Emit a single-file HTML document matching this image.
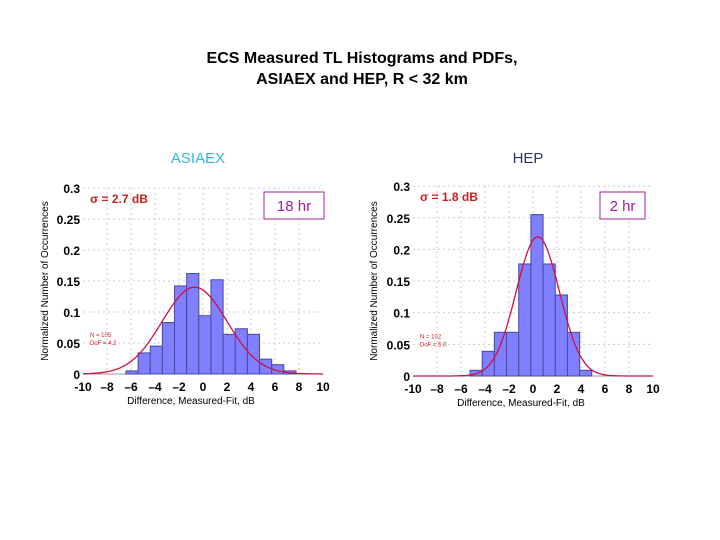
<!DOCTYPE html>
<html><head><meta charset="utf-8"><style>
body{margin:0;background:#fff;}
svg{display:block;font-family:"Liberation Sans",Arial,sans-serif;}
</style></head><body>
<svg id="s" width="720" height="540">
<text x="362" y="63" text-anchor="middle" font-size="16" font-weight="bold">ECS Measured TL Histograms and PDFs,</text>
<text x="362" y="84" text-anchor="middle" font-size="16" font-weight="bold">ASIAEX and HEP, R &lt; 32 km</text>
<text x="198" y="163" text-anchor="middle" font-size="15" fill="#30b8d8">ASIAEX</text>
<text x="528" y="163" text-anchor="middle" font-size="15" fill="#303070">HEP</text>
</svg>
<script>
const leftStart=-6.42, leftWidth=1.012;
const leftValues=[0.005,0.034,0.045,0.083,0.142,0.162,0.094,0.152,0.064,0.073,0.064,0.024,0.015,0.005];
const leftFit=[-0.7,2.7,0.14];
const rightStart=-5.25, rightWidth=1.015;
const rightValues=[0.009,0.039,0.069,0.069,0.177,0.255,0.177,0.128,0.069,0.009];
const rightFit=[0.4,1.8,0.22];
const xTicks=[-10,-8,-6,-4,-2,0,2,4,6,8,10];
const xTickLabels=["-10","\u20138","\u20136","\u20134","\u20132","0","2","4","6","8","10"];
const yTicks=[0,0.05,0.1,0.15,0.2,0.25,0.3];
const yTickLabels=["0","0.05","0.1","0.15","0.2","0.25","0.3"];
const NS="http://www.w3.org/2000/svg";
const svg=document.getElementById('s');
function el(t,a,p){const e=document.createElementNS(NS,t);for(const k in a)e.setAttribute(k,a[k]);(p||svg).appendChild(e);return e;}
function panel(o){
  const g=el('g',{});
  
  
  const X=v=>o.x0+(v+10)*o.xs, Y=v=>o.y0-v*o.ys;
  xTicks.forEach((t,i)=>{
    if(i>0&&i<xTicks.length-1){const l=el('line',{x1:X(t),x2:X(t),y1:Y(0.3),y2:Y(0),stroke:'#ccc','stroke-dasharray':'2,3'},g);
    }
    const tx=el('text',{x:X(t),y:o.y0+17,'text-anchor':'middle','font-size':12,'font-weight':'bold'},g);tx.textContent=xTickLabels[i];
    
  });
  yTicks.forEach((t,i)=>{
    if(i>0){const l=el('line',{x1:X(-10),x2:X(10),y1:Y(t),y2:Y(t),stroke:'#ccc','stroke-dasharray':'2,3'},g);
    }
    const tx=el('text',{x:X(-10)-3,y:Y(t)+5,'text-anchor':'end','font-size':12,'font-weight':'bold'},g);tx.textContent=yTickLabels[i];
    
  });
  el('line',{x1:X(-10),x2:X(10),y1:Y(0),y2:Y(0),stroke:'#999'},g);
  o.vals.forEach((v,i)=>{
    const a=o.start+i*o.w;
    const r=el('rect',{x:X(a),y:Y(v),width:o.w*o.xs,height:v*o.ys,fill:'#8080ff',stroke:'#4848a0','stroke-width':1},g);
    
  });
  let d='';
  for(let x=-10;x<=10.001;x+=0.1){const y=o.fit[2]*Math.exp(-0.5*Math.pow((x-o.fit[0])/o.fit[1],2));d+=(d?'L':'M')+X(x).toFixed(1)+','+Y(y).toFixed(1);}
  const p=el('path',{d:d,fill:'none',stroke:'#d01040','stroke-width':1.3},g);
  
  const yl=el('text',{x:0,y:0,transform:`translate(${o.ylx},${Y(0.15)}) rotate(-90)`,'text-anchor':'middle','font-size':10},g);yl.textContent='Normalized Number of Occurrences';
  
  const xl=el('text',{x:X(-1),y:o.y0+30,'text-anchor':'middle','font-size':10},g);xl.textContent='Difference, Measured-Fit, dB';
  
  const sg=el('text',{x:X(-10)+7,y:Y(0.3)+15,'font-size':12,'font-weight':'bold',fill:'#cc2020'},g);sg.textContent=o.sigma;
  
  const n1=el('text',{x:X(-10)+7,y:Y(0.04)-12,'font-size':6,fill:'#cc2020'},g);n1.textContent=o.n1;
  
  const n2=el('text',{x:X(-10)+7,y:Y(0.04)-4,'font-size':6,fill:'#cc2020'},g);n2.textContent=o.n2;
  
  const bx=el('rect',{x:o.bx,y:o.by,width:o.bw,height:27,fill:'#fff',stroke:'#a020a0','stroke-width':1},g);
  
  const bt=el('text',{x:o.bx+o.bw/2,y:o.by+19,'text-anchor':'middle','font-size':15,fill:'#a020a0'},g);bt.textContent=o.hr;
  
}
panel({name:'asiaex-panel',x0:83,xs:12,y0:374,ys:620,start:leftStart,w:leftWidth,vals:leftValues,fit:leftFit,ylx:48,sigma:'\u03c3 = 2.7 dB',n1:'N = 105',n2:'DoF = 4.2',bx:264,by:192,bw:60,hr:'18 hr'});
panel({name:'hep-panel',x0:413,xs:12,y0:376,ys:633,start:rightStart,w:rightWidth,vals:rightValues,fit:rightFit,ylx:377,sigma:'\u03c3 = 1.8 dB',n1:'N = 102',n2:'DoF = 5.0',bx:600,by:192,bw:45,hr:'2 hr'});
</script>
</body></html>
